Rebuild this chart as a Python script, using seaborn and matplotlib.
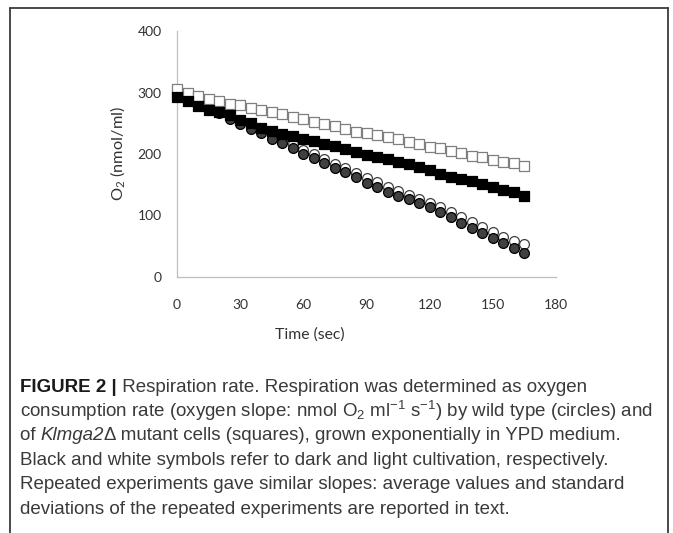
import numpy as np
import pandas as pd
import matplotlib
matplotlib.use("Agg")
import matplotlib.pyplot as plt
from matplotlib.lines import Line2D
import seaborn as sns

# time points (sec) and O2 readings (nmol/ml)
time_s = list(range(0, 170, 5))

light_squares = [305.5, 300, 294.5, 290, 286, 282, 279, 275, 271, 268, 264.5, 260, 257,
                 252.5, 248.6, 245, 240, 236, 234, 230.5, 227, 225, 220, 216, 212, 209,
                 205, 201, 197, 195, 190.5, 187.7, 185, 181]
dark_squares = [293, 286, 278, 272, 268, 264, 256, 251, 242, 237, 233, 229, 224, 221,
                216, 213, 208, 204, 198.5, 195, 191.5, 187.7, 183.4, 179.5, 174, 167.7,
                163, 159.6, 156, 151.5, 147, 141.7, 138, 132.5]
light_circles = [300, 292, 285, 278, 270, 262, 254, 246, 239, 231, 224, 216, 207, 200,
                 192, 184, 177, 169, 161, 154, 147, 140, 134, 127, 121, 114, 106, 98,
                 90, 82, 73, 65, 59, 54]
dark_circles = [295, 288, 281, 274, 266, 257, 249, 240, 234, 225, 218, 209, 200, 193.5,
                185, 178, 170, 162, 153.6, 147, 139, 132, 127, 120, 113.6, 105.5, 96.8,
                87.7, 79.5, 71.4, 63.3, 55, 47, 39]

x_ticks = [0, 30, 60, 90, 120, 150, 180]
y_ticks = [0, 100, 200, 300, 400]

# caption lines; each line is a list of (text, style) pieces
caption = [
    [("FIGURE 2 |", 'bold'), (" Respiration rate. Respiration was determined as oxygen", 'normal')],
    [(r"consumption rate (oxygen slope: nmol O$_2$ ml$^{-1}$ s$^{-1}$) by wild type (circles) and", 'normal')],
    [("of ", 'normal'), ("Klmga2", 'italic'), ("Δ mutant cells (squares), grown exponentially in YPD medium.", 'normal')],
    [("Black and white symbols refer to dark and light cultivation, respectively.", 'normal')],
    [("Repeated experiments gave similar slopes: average values and standard", 'normal')],
    [("deviations of the repeated experiments are reported in text.", 'normal')],
]

sns.set_style("white")
plt.rcParams['font.family'] = ['Lato', 'DejaVu Sans']
plt.rcParams['mathtext.default'] = 'regular'

df = pd.DataFrame({
    't': time_s * 4,
    'o2': light_circles + dark_circles + light_squares + dark_squares,
    'series': (['light_circles'] * len(time_s) + ['dark_circles'] * len(time_s)
               + ['light_squares'] * len(time_s) + ['dark_squares'] * len(time_s)),
})

fig = plt.figure(figsize=(6.73, 5.33), dpi=100)
ax = fig.add_axes([177 / 673, 1 - 277 / 533, 379 / 673, 246 / 533])

styles = {
    'light_circles': dict(marker='o', s=50, color='white', edgecolor='#404040'),
    'dark_circles': dict(marker='o', s=50, color='#404040', edgecolor='black'),
    'light_squares': dict(marker='s', s=44, color='white', edgecolor='#7f7f7f'),
    'dark_squares': dict(marker='s', s=44, color='black', edgecolor='black'),
}
for name, st in styles.items():
    sub = df[df['series'] == name]
    sns.scatterplot(data=sub, x='t', y='o2', ax=ax, linewidth=0.9, clip_on=False,
                    legend=False, zorder=3, **st)

ax.set_xlim(0, 180)
ax.set_ylim(0, 400)
ax.set_xticks(x_ticks)
ax.set_yticks(y_ticks)
sns.despine(ax=ax)
for side in ['left', 'bottom']:
    ax.spines[side].set_color('#bfbfbf')
    ax.spines[side].set_linewidth(0.9)
ax.tick_params(axis='both', colors='#bfbfbf', length=4, width=0.9, labelsize=10,
               labelcolor='#333333')
ax.tick_params(axis='x', pad=12)
ax.tick_params(axis='y', pad=7)

ax.set_xlabel('Time (sec)', fontsize=11.3, color='#333333')
ax.set_ylabel('O$_2$ (nmol/ml)', fontsize=11.8, color='#333333')
ax.xaxis.set_label_coords(0.351, -0.232)
ax.xaxis.label.set_va('center')
ax.yaxis.set_label_coords(-0.158, 0.5)
ax.yaxis.label.set_va('center')

# frame round the figure (open at the bottom)
W, H = 673, 533
fc = '#3a3a3a'
fig.add_artist(Line2D([10 / W, 10 / W], [0, 1 - 8 / H], transform=fig.transFigure, color=fc, lw=1.3))
fig.add_artist(Line2D([668 / W, 668 / W], [0, 1 - 8 / H], transform=fig.transFigure, color=fc, lw=1.3))
fig.add_artist(Line2D([10 / W, 668 / W], [1 - 8 / H, 1 - 8 / H], transform=fig.transFigure, color=fc, lw=1.3))

renderer = fig.canvas.get_renderer()
y0 = 387
for i, pieces in enumerate(caption):
    x = 20
    for txt, style in pieces:
        kw = dict(family='Liberation Sans', fontsize=13.5, va='center', ha='left', color='#3a3a3a')
        if style == 'bold':
            kw.update(weight='bold', color='#1a1a1a')
        elif style == 'italic':
            kw.update(style='italic')
        t = fig.text(x / W, 1 - (y0 + i * 24.4) / H, txt, **kw)
        x += t.get_window_extent(renderer).width

fig.savefig('out.png', dpi=100)
